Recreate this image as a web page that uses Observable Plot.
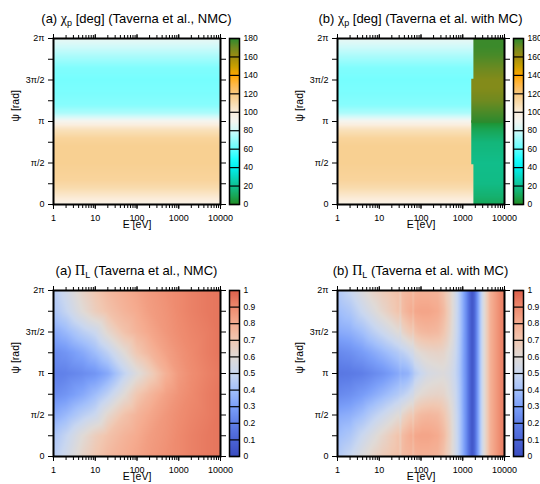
<!DOCTYPE html>
<html>
<head>
<meta charset="utf-8">
<script src="https://cdn.jsdelivr.net/npm/d3@7"></script>
<script src="https://cdn.jsdelivr.net/npm/@observablehq/plot@0.6"></script>
<style>
  html, body { margin: 0; padding: 0; background: #fff; }
  body { width: 540px; height: 484px; overflow: hidden; position: relative; font-family: "Liberation Sans", Arial, Helvetica, sans-serif; color: #000; }
  .panel { position: absolute; width: 270px; height: 242px; }
  .title { position: absolute; left: 0; top: 11px; width: 273px; text-align: center; font-size: 13px; line-height: 15px; white-space: nowrap; }
  .title .g { font-family: "Liberation Serif", "Times New Roman", serif; font-size: 14px; }
  .title sub { font-size: 9px; vertical-align: -3px; line-height: 0; }
  .main { position: absolute; left: 0; top: 0; }
  .cbar { position: absolute; left: 221px; top: 0; }
</style>
</head>
<body>
<script>
// ---------- axes / tick labels ----------
const energyTicks = [1, 10, 100, 1000, 10000];
const energyTickLabels = ["1", "10", "100", "1000", "10000"];
const psiTicks = [0, 0.5, 1, 1.5, 2];                 // in units of π
const psiTickLabels = ["0", "π/2", "π", "3π/2", "2π"];
const psiMinorTicks = [0.25, 0.75, 1.25, 1.75];

const chiBarTicks = [0, 20, 40, 60, 80, 100, 120, 140, 160, 180];
const chiBarTickLabels = ["0", "20", "40", "60", "80", "100", "120", "140", "160", "180"];
const piBarTicks = [0, 0.1, 0.2, 0.3, 0.4, 0.5, 0.6, 0.7, 0.8, 0.9, 1];
const piBarTickLabels = ["0", "0.1", "0.2", "0.3", "0.4", "0.5", "0.6", "0.7", "0.8", "0.9", "1"];

// ---------- colour palettes ----------
const chiStops  = [0, 10, 20, 30, 40, 50, 60, 70, 80, 90, 100, 110, 120, 130, 140, 150, 160, 170, 180];
const chiColors = ["#228b22", "#18a85a", "#10c090", "#08d8c0", "#00f0f0", "#20ffff", "#60ffff", "#98fcfc", "#d0fafa",
                   "#f4f6f2", "#fbeedd", "#f9dcae", "#f8c880", "#ffb848", "#ffa500", "#c8a000", "#a08c10", "#708a20", "#2e8a2e"];
const piStops  = [0, 0.1, 0.2, 0.3, 0.4, 0.5, 0.6, 0.7, 0.8, 0.9, 1];
const piColors = ["#3b4cc0", "#4b64d5", "#5f7fe8", "#7b9ff9", "#a3c0fb", "#c9d7f0", "#e0dad6", "#f1c8b2", "#f5ab8f", "#ee8a6e", "#dd604b"];

// ---------- (a) chi_p, NMC : profile along psi (E-independent) ----------
const chiPsi = [0, 0.1, 0.2, 0.3, 0.5, 0.7, 0.8, 0.9, 0.95, 1.0, 1.05, 1.1, 1.2, 1.35, 1.5, 1.65, 1.8, 1.9, 2.0];
const chiNMC = [96, 103, 110, 114, 116, 116, 114, 107, 101, 93, 82, 74, 67, 65, 64, 66, 74, 80, 87];
const chiProfileEnergies = [1, 100, 10000];

// ---------- (b) chi_p, with MC : high-energy region ----------
const chiMCEdgeOuter = 1800;   // psi < π/2 or psi > 3π/2
const chiMCEdgeInner = 1600;   // π/2 < psi < 3π/2
const chiMCLowPsi = [0, 0.1, 0.25, 0.5, 0.75, 0.9, 1.0];
const chiMCLow    = [10, 14, 18, 19, 16, 9, 2];
const chiMCHighPsi = [1.0, 1.1, 1.25, 1.4, 1.5, 1.65, 1.8, 1.9, 2.0];
const chiMCHigh    = [180, 176, 170, 166, 166, 171, 176, 178, 178];

// ---------- (a) Pi_L, NMC ----------
const piPsi = [0, 0.25, 0.5, 0.75, 1, 1.25, 1.5, 1.75, 2];
const piNMCEnergies = [1, 2, 5, 10, 20, 50, 100, 200, 500, 1000, 2000, 5000, 10000];
const piNMC_0   = [0.45, 0.53, 0.64, 0.70, 0.75, 0.79, 0.82, 0.85, 0.88, 0.90, 0.92, 0.94, 0.95];
const piNMC_025 = [0.42, 0.49, 0.60, 0.67, 0.72, 0.77, 0.80, 0.84, 0.87, 0.90, 0.92, 0.94, 0.95];
const piNMC_050 = [0.33, 0.38, 0.46, 0.51, 0.62, 0.72, 0.77, 0.81, 0.86, 0.89, 0.91, 0.93, 0.95];
const piNMC_075 = [0.24, 0.27, 0.33, 0.39, 0.47, 0.60, 0.70, 0.76, 0.83, 0.87, 0.90, 0.93, 0.95];
const piNMC_100 = [0.20, 0.21, 0.24, 0.27, 0.33, 0.48, 0.58, 0.66, 0.78, 0.85, 0.89, 0.92, 0.94];
const piNMCRows = [piNMC_0, piNMC_025, piNMC_050, piNMC_075, piNMC_100, piNMC_075, piNMC_050, piNMC_025, piNMC_0];

// ---------- (b) Pi_L, with MC ----------
const piMCEnergies = [1, 2, 4, 7, 12, 20, 29, 32, 35, 50, 60, 65, 70, 100, 150, 250, 350, 500, 650, 830,
                      1200, 1450, 1680, 1900, 2200, 2700, 3300, 4600, 7900, 10000];
const piMC_0   = [0.44,0.50,0.58,0.64,0.68,0.71,0.73,0.68,0.74,0.76,0.77,0.72,0.77,0.78,0.78,0.77,0.72,0.64,0.55,0.45,0.25,0.12,0.04,0.10,0.25,0.45,0.60,0.78,0.90,0.93];
const piMC_025 = [0.39,0.43,0.51,0.57,0.63,0.68,0.72,0.67,0.74,0.78,0.80,0.75,0.81,0.82,0.82,0.80,0.75,0.65,0.55,0.45,0.25,0.12,0.04,0.10,0.25,0.45,0.60,0.78,0.90,0.93];
const piMC_050 = [0.33,0.35,0.40,0.46,0.51,0.56,0.60,0.57,0.63,0.68,0.70,0.66,0.72,0.75,0.76,0.75,0.71,0.63,0.54,0.45,0.25,0.12,0.04,0.10,0.25,0.45,0.60,0.78,0.90,0.93];
const piMC_075 = [0.23,0.25,0.29,0.33,0.37,0.41,0.44,0.46,0.46,0.50,0.53,0.53,0.57,0.61,0.63,0.64,0.63,0.58,0.52,0.44,0.25,0.12,0.04,0.10,0.25,0.45,0.60,0.78,0.90,0.93];
const piMC_100 = [0.17,0.18,0.20,0.23,0.26,0.30,0.33,0.36,0.34,0.36,0.40,0.42,0.45,0.50,0.55,0.57,0.58,0.55,0.50,0.43,0.25,0.12,0.04,0.10,0.25,0.45,0.60,0.78,0.90,0.93];
const piMCRows = [piMC_0, piMC_025, piMC_050, piMC_075, piMC_100, piMC_075, piMC_050, piMC_025, piMC_0];

// ---------- helpers ----------
const FONT = "'Liberation Sans', Arial, Helvetica, sans-serif";
const energyMinorTicks = d3.scaleLog().domain([1, 10000]).ticks();
const chiColor = {type: "linear", domain: chiStops, range: chiColors, interpolate: "rgb", clamp: true};
const piColor  = {type: "linear", domain: piStops, range: piColors, interpolate: "rgb", clamp: true};

function grid(energies, psis, rows) {
  const out = [];
  psis.forEach((p, i) => energies.forEach((E, j) => out.push({E, psi: p, v: rows[i][j]})));
  return out;
}
function rasterOf(data, x1, x2, y1, y2) {
  return Plot.raster(data, {x: "E", y: "psi", fill: "v", interpolate: "barycentric", x1, x2, y1, y2});
}
function chiProfileRaster() {
  const rows = chiNMC.map(v => chiProfileEnergies.map(() => v));
  return rasterOf(grid(chiProfileEnergies, chiPsi, rows), 1, 10000, 0, 2);
}
// high-energy band of panel (b); bounds padded by a hair so neighbouring bands leave no seam
function greenBand(psis, vals, lo, hi, eStart) {
  const ps = [], rows = [];
  psis.forEach((p, i) => { if (p >= lo && p <= hi) { ps.push(p); rows.push([vals[i], vals[i]]); } });
  const pad = 0.015;
  return rasterOf(grid([eStart, 10000], ps, rows), eStart, 10000, Math.max(0, lo - pad), Math.min(2, hi + pad));
}

function mainPlot(rasters, color) {
  return Plot.plot({
    width: 270, height: 242,
    marginLeft: 53, marginRight: 50, marginTop: 38, marginBottom: 38,
    x: {type: "log", domain: [1, 10000], label: null},
    y: {domain: [0, 2], label: null},
    color,
    style: {fontFamily: FONT, fontSize: "9px", color: "black", background: "transparent", overflow: "visible"},
    marks: [
      ...rasters,
      Plot.frame({stroke: "black", strokeWidth: 2}),
      Plot.axisX({anchor: "bottom", ticks: energyMinorTicks, tickFormat: () => "", tickSize: 4, label: null}),
      Plot.axisX({anchor: "bottom", ticks: energyTicks, tickFormat: d => energyTickLabels[energyTicks.indexOf(d)], tickSize: 5, tickPadding: 5, label: null, fontSize: 9}),
      Plot.axisX({anchor: "top", ticks: energyMinorTicks, tickFormat: () => "", tickSize: 4, label: null}),
      Plot.axisX({anchor: "top", ticks: energyTicks, tickFormat: () => "", tickSize: 5, label: null}),
      Plot.axisY({anchor: "left", ticks: psiMinorTicks, tickFormat: () => "", tickSize: 5, label: null}),
      Plot.axisY({anchor: "left", ticks: psiTicks, tickFormat: d => psiTickLabels[psiTicks.indexOf(d)], tickSize: 5, tickPadding: 4, label: null, fontSize: 9}),
      Plot.axisY({anchor: "right", ticks: [...psiTicks, ...psiMinorTicks], tickFormat: () => "", tickSize: 5, label: null}),
      Plot.text(["E [eV]"], {frameAnchor: "bottom", dy: 23, fontSize: 10.5, text: d => d}),
      Plot.text(["ψ [rad]"], {frameAnchor: "left", dx: -38, rotate: -90, fontSize: 10.5, text: d => d})
    ]
  });
}

function colorbar(color, domain, ticks, labels) {
  return Plot.plot({
    width: 49, height: 242,
    marginLeft: 8, marginRight: 31, marginTop: 38, marginBottom: 38,
    x: {domain: [0, 1], axis: null},
    y: {domain, label: null},
    color,
    style: {fontFamily: FONT, fontSize: "8.5px", color: "black", background: "transparent", overflow: "visible"},
    marks: [
      Plot.raster({fill: (x, y) => y, x1: 0, x2: 1, y1: domain[0], y2: domain[1]}),
      Plot.ruleY(ticks, {stroke: "black", strokeWidth: 1.2}),
      Plot.frame({stroke: "black", strokeWidth: 1.5}),
      Plot.axisY({anchor: "right", ticks, tickFormat: d => labels[ticks.indexOf(d)], tickSize: 0, tickPadding: 4, label: null, fontSize: 8.5})
    ]
  });
}

const panels = [
  {left: 0, top: 0,
   title: '(a) <span class="g">χ</span><sub>p</sub> [deg] (Taverna et al., NMC)',
   rasters: [chiProfileRaster()], color: chiColor, bar: [[0, 180], chiBarTicks, chiBarTickLabels]},
  {left: 284, top: 0,
   title: '(b) <span class="g">χ</span><sub>p</sub> [deg] (Taverna et al. with MC)',
   rasters: [
     chiProfileRaster(),
     greenBand(chiMCLowPsi, chiMCLow, 0, 0.5, chiMCEdgeOuter),
     greenBand(chiMCLowPsi, chiMCLow, 0.5, 1, chiMCEdgeInner),
     greenBand(chiMCHighPsi, chiMCHigh, 1, 1.5, chiMCEdgeInner),
     greenBand(chiMCHighPsi, chiMCHigh, 1.5, 2, chiMCEdgeOuter)
   ], color: chiColor, bar: [[0, 180], chiBarTicks, chiBarTickLabels]},
  {left: 0, top: 252,
   title: '(a) <span class="g">Π</span><sub>L</sub> (Taverna et al., NMC)',
   rasters: [rasterOf(grid(piNMCEnergies, piPsi, piNMCRows), 1, 10000, 0, 2)],
   color: piColor, bar: [[0, 1], piBarTicks, piBarTickLabels]},
  {left: 284, top: 252,
   title: '(b) <span class="g">Π</span><sub>L</sub> (Taverna et al. with MC)',
   rasters: [rasterOf(grid(piMCEnergies, piPsi, piMCRows), 1, 10000, 0, 2)],
   color: piColor, bar: [[0, 1], piBarTicks, piBarTickLabels]}
];

for (const p of panels) {
  const div = document.createElement("div");
  div.className = "panel";
  div.style.left = p.left + "px";
  div.style.top = p.top + "px";
  const main = mainPlot(p.rasters, p.color);
  main.classList.add("main");
  div.appendChild(main);
  const cb = colorbar(p.color, ...p.bar);
  cb.classList.add("cbar");
  div.appendChild(cb);
  const t = document.createElement("div");
  t.className = "title";
  t.innerHTML = p.title;
  div.appendChild(t);
  document.body.appendChild(div);
}
</script>
</body>
</html>
